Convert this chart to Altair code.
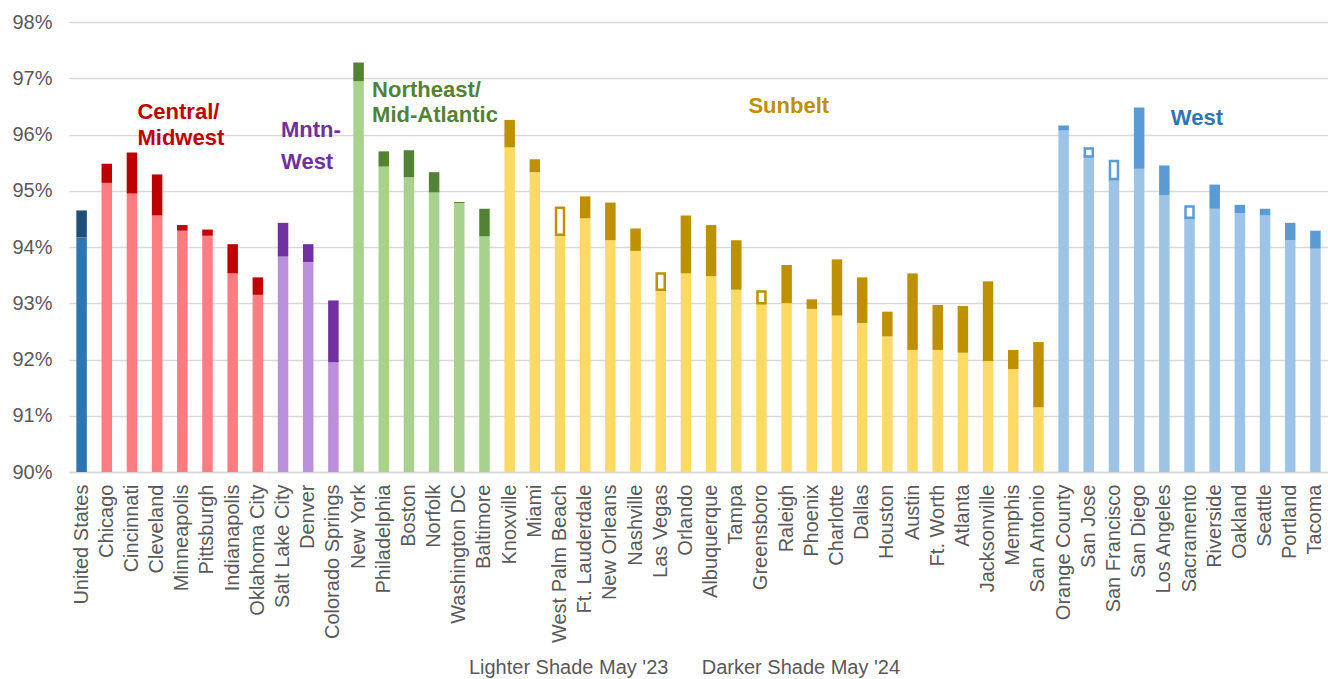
import altair as alt
import pandas as pd

cities = ["United States", "Chicago", "Cincinnati", "Cleveland", "Minneapolis", "Pittsburgh",
          "Indianapolis", "Oklahoma City", "Salt Lake City", "Denver", "Colorado Springs",
          "New York", "Philadelphia", "Boston", "Norfolk", "Washington DC", "Baltimore",
          "Knoxville", "Miami", "West Palm Beach", "Ft. Lauderdale", "New Orleans", "Nashville",
          "Las Vegas", "Orlando", "Albuquerque", "Tampa", "Greensboro", "Raleigh", "Phoenix",
          "Charlotte", "Dallas", "Houston", "Austin", "Ft. Worth", "Atlanta", "Jacksonville",
          "Memphis", "San Antonio", "Orange County", "San Jose", "San Francisco", "San Diego",
          "Los Angeles", "Sacramento", "Riverside", "Oakland", "Seattle", "Portland", "Tacoma"]

regions = (["US"] + ["Central"] * 7 + ["Mountain"] * 3 + ["Northeast"] * 6
           + ["Sunbelt"] * 22 + ["West"] * 11)

may23 = [94.17, 95.14, 94.95, 94.56, 94.29, 94.20, 93.53, 93.15, 93.83, 93.73, 91.95,
         96.95, 95.43, 95.24, 94.97, 94.78, 94.19,
         95.77, 95.33, 94.70, 94.51, 94.12, 93.93, 93.53, 93.53, 93.48, 93.24, 93.21,
         93.00, 92.90, 92.78, 92.65, 92.41, 92.17, 92.17, 92.12, 91.97, 91.83, 91.15,
         96.07, 95.75, 95.53, 95.39, 94.92, 94.72, 94.68, 94.60, 94.56, 94.12, 93.97]

may24 = [94.65, 95.48, 95.68, 95.29, 94.39, 94.31, 94.05, 93.46, 94.43, 94.05, 93.05,
         97.28, 95.70, 95.72, 95.33, 94.80, 94.68,
         96.26, 95.56, 94.22, 94.90, 94.79, 94.33, 93.24, 94.56, 94.39, 94.12, 93.00,
         93.68, 93.07, 93.78, 93.46, 92.85, 93.53, 92.97, 92.95, 93.39, 92.17, 92.31,
         96.16, 95.61, 95.21, 96.48, 95.45, 94.52, 95.11, 94.75, 94.68, 94.43, 94.29]

region_names = ["US", "Central", "Mountain", "Northeast", "Sunbelt", "West"]
light_colors = ["#2E75B6", "#FF7C80", "#BC8FDD", "#A9D18E", "#FFD966", "#9DC3E6"]
dark_colors = ["#1F4E79", "#C00000", "#7030A0", "#548235", "#BF9000", "#5B9BD5"]

group_labels = ["Central/\nMidwest", "Mntn-\nWest", "Northeast/\nMid-Atlantic", "Sunbelt", "West"]
label_anchor = ["Cincinnati", "Salt Lake City", "New York", "Greensboro", "Los Angeles"]
label_y = [96.28, 95.95, 96.67, 96.39, 96.17]
label_color = ["#C00000", "#7030A0", "#548235", "#BF9000", "#2E75B6"]
label_dx = [5.5, -2, 13.5, -13, 6.5]
label_lh = [26.7, 31.7, 25.3, 26, 26]

y_ticks = [90, 91, 92, 93, 94, 95, 96, 97, 98]
caption = "Lighter Shade May '23" + "\u00a0" * 6 + "Darker Shade May '24"

df = pd.DataFrame({"city": cities, "region": regions, "may23": may23, "may24": may24})
df["low"] = df[["may23", "may24"]].min(axis=1)

FONT = "Liberation Sans"
GRAY = "#595959"

x = alt.X("city:N", sort=cities,
          scale=alt.Scale(paddingInner=0, paddingOuter=0),
          axis=alt.Axis(labelAngle=270, labelPadding=12, ticks=False, tickSize=0,
                        domainColor="#D9D9D9", domainWidth=1.5,
                        labelFont=FONT, labelFontSize=20, labelColor=GRAY,
                        title=caption, titleFont=FONT, titleFontSize=20,
                        titleFontWeight="normal", titleColor=GRAY,
                        titleX=615, titleY=201, titleBaseline="alphabetic",
                        titleAlign="center", titleAnchor="start"))

yscale = alt.Scale(domain=[90, 98], zero=False, nice=False)
yaxis = alt.Axis(values=y_ticks, labelExpr="datum.value + '%'", grid=True,
                 gridColor="#D9D9D9", gridWidth=1.5, domain=False, ticks=False, tickSize=0,
                 labelPadding=17, labelFont=FONT, labelFontSize=20, labelColor=GRAY,
                 title=None)

light_scale = alt.Scale(domain=region_names, range=light_colors)
dark_scale = alt.Scale(domain=region_names, range=dark_colors)

base = alt.Chart(df)

light = base.mark_bar(size=10.5).encode(
    x=x,
    y=alt.Y("low:Q", scale=yscale, axis=yaxis),
    y2=alt.datum(90),
    color=alt.Color("region:N", scale=light_scale, legend=None),
)

dark = base.transform_filter("datum.may24 > datum.may23").mark_bar(size=10.5).encode(
    x=x,
    y=alt.Y("may23:Q", scale=yscale, axis=yaxis),
    y2="may24:Q",
    color=alt.Color("region:N", scale=dark_scale, legend=None),
)

hollow = base.transform_filter("datum.may24 < datum.may23").mark_bar(
    size=8, fill="white", strokeWidth=2.5
).encode(
    x=x,
    y=alt.Y("may24:Q", scale=yscale, axis=yaxis),
    y2="may23:Q",
    stroke=alt.Stroke("region:N", scale=dark_scale, legend=None),
)

layers = [light, dark, hollow]
for txt, anchor, yv, col, dx, lh in zip(group_labels, label_anchor, label_y,
                                         label_color, label_dx, label_lh):
    layers.append(
        base.transform_filter(alt.datum.city == anchor).mark_text(
            align="left", baseline="alphabetic", dx=dx, lineBreak="\n", lineHeight=lh,
            font=FONT, fontSize=22, fontWeight="bold", color=col
        ).encode(
            x=x,
            y=alt.datum(yv, scale=yscale),
            text=alt.value(txt),
        )
    )

chart = alt.layer(*layers).resolve_scale(color="independent", stroke="independent").properties(
    width=1259, height=450,
    autosize=alt.AutoSizeParams(type="none"),
    padding={"left": 69, "top": 22, "right": 0, "bottom": 207},
    background="white",
).configure_view(stroke=None)

chart.save("out.html", embed_options={"renderer": "svg", "actions": False})
